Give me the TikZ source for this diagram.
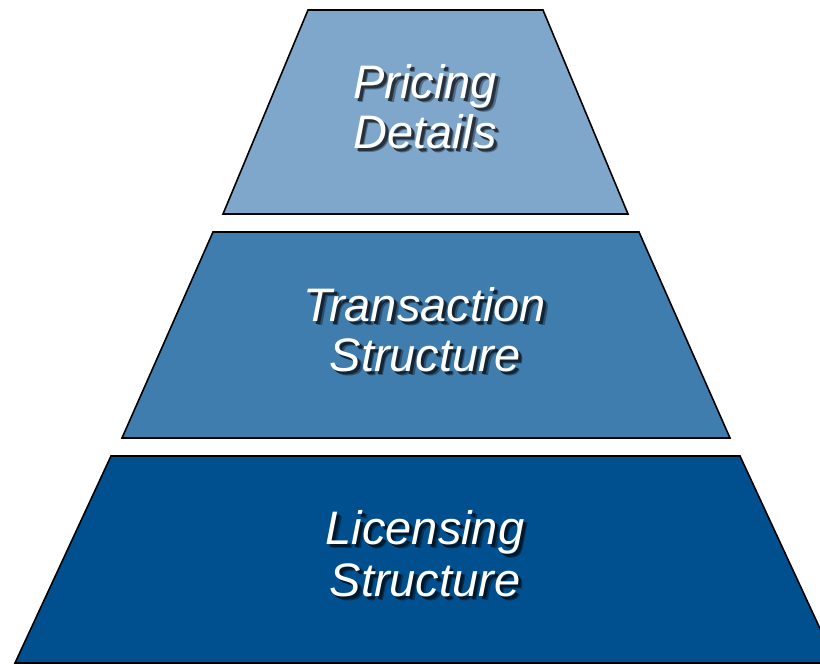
\documentclass[tikz,border=0pt]{standalone}
\usepackage{fontspec}
\setmainfont{Liberation Sans}
\usepackage{tikz}
\definecolor{tierTop}{HTML}{7FA7CB}
\definecolor{tierMid}{HTML}{3F7DAE}
\definecolor{tierLow}{HTML}{00508F}
% word with a soft drop shadow behind it
\newcommand{\dropword}[2]{%
  \rlap{\kern4.5pt\raisebox{-4.5pt}{\textcolor{black!35!#1}{#2}}}%
  \rlap{\kern3pt\raisebox{-3pt}{\textcolor{black!70!#1}{#2}}}#2}

\begin{document}
\begin{tikzpicture}[x=1pt, y=-1pt, 
    tier/.style = {draw=black, line width=1.6pt, line join=miter},
    label/.style = {anchor=base, text=white, font=\fontsize{47}{50}\selectfont\itshape}]
    \useasboundingbox (0,0) rectangle (820,664);
    \clip (0,0) rectangle (820,664);
    % Tiers

    \draw[tier, fill=tierTop] (308,10) -- (543,10) -- (628,214) -- (223,214) -- cycle;
    \draw[tier, fill=tierMid] (213,232) -- (639,232) -- (730,438) -- (122,438) -- cycle;
    \draw[tier, fill=tierLow] (111,456) -- (740,456) -- (836,663) -- (15,663) -- cycle;

    % Labels
    \node[label] (pricing) at (425,98) {\dropword{tierTop}{Pricing}};
    \node[label] (details) at (425,148) {\dropword{tierTop}{Details}};
    \node[label] (transaction) at (425,321) {\dropword{tierMid}{Transaction}};
    \node[label] (structure1) at (425,371) {\dropword{tierMid}{Structure}};
    \node[label] (licensing) at (425,544) {\dropword{tierLow}{Licensing}};
    \node[label] (structure2) at (425,596) {\dropword{tierLow}{Structure}};

\end{tikzpicture}
\end{document}
